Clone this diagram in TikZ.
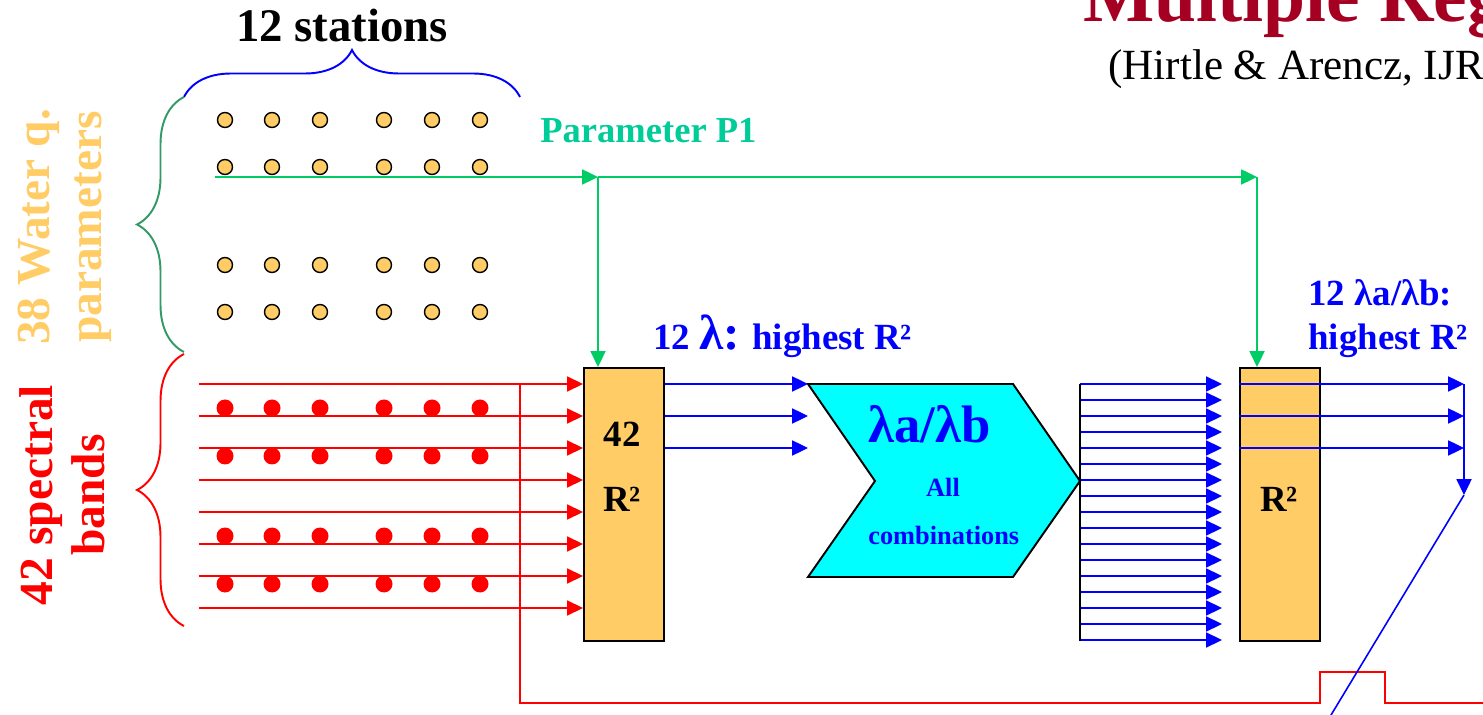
\documentclass[tikz,border=0pt]{standalone}
\usepackage{fontspec}
\setmainfont{Liberation Serif}
\usetikzlibrary{arrows.meta,decorations.pathreplacing,positioning}

\definecolor{wqorange}{HTML}{FFCC66}
\definecolor{titlered}{HTML}{A50021}
\definecolor{pline}{HTML}{00CC66}
\definecolor{ptext}{HTML}{00CC99}
\definecolor{bracegreen}{HTML}{339966}
\definecolor{chevcyan}{HTML}{00FFFF}

\tikzset{
  >={Triangle[length=9pt,width=8.5pt]},
  redline/.style={draw=red,line width=1.1pt},
  blueline/.style={draw=blue,line width=1.1pt},
  greenline/.style={draw=pline,line width=1.1pt},
  fitbox/.style={draw=black,fill=wqorange,line width=1.2pt,minimum width=1.6cm,minimum height=5.46cm,inner sep=0pt},
  bracedeco/.style={decorate,decoration={brace,amplitude=0.94cm},line width=1.1pt},
  lbl/.style={inner sep=0pt,font=\fontsize{21}{25}\selectfont\bfseries},
  sidelbl/.style={inner sep=0pt,rotate=90,align=center,font=\fontsize{27}{29.5}\selectfont\bfseries}
}

\begin{document}
\begin{tikzpicture}[x=0.02cm,y=-0.02cm]
  \path[use as bounding box] (0,0) rectangle (1483,715);
  \clip (0,0) rectangle (1483,715);

  \node[anchor=base west,inner sep=0pt,text=titlered,font=\fontsize{43}{50}\selectfont\bfseries] (title) at (1083,22) {Multiple Regression};
  \node[anchor=base west,inner sep=0pt,font=\fontsize{24.5}{29}\selectfont] (cite) at (1108,80) {(Hirtle \& Arencz, IJRS)};

  \node[anchor=base west,inner sep=0pt,font=\fontsize{26.6}{30}\selectfont\bfseries] (stations) at (236,42) {12 stations};
  \node[sidelbl,text=wqorange] (wqlabel) at (65,227) {38 Water q.\\parameters};
  \node[sidelbl,text=red] (bandlabel) at (62,495) {42 spectral\\bands};

  \draw[bracedeco,blue] (184,97) -- (520,97);
  \draw[bracedeco,bracegreen] (184,352) -- (184,97);
  \draw[bracedeco,red] (184,626) -- (184,354);

  \node[fitbox] (bandfit) at (624,504.5) {};
  \node[fitbox] (ratiofit) at (1280,504.5) {};
  \node[lbl,anchor=base] (bandnum) at (622,447) {42};
  \node[lbl,anchor=base] (bandr) at (622,512) {R²};
  \node[lbl,anchor=base] (ratior) at (1279,512) {R²};

  \draw[fill=chevcyan,line width=1.1pt] (808,384) coordinate (chtl) -- (1013,384) -- (1080,481) coordinate (chtip)
    -- (1013,577) -- (808,577) -- (875,481) -- cycle;
  \node[anchor=base west,inner sep=0pt,text=blue,font=\fontsize{30}{34}\selectfont\bfseries] (ratio) at (868,443) {λa/λb};
  \node[anchor=base,inner sep=0pt,text=blue,font=\fontsize{15}{18}\selectfont\bfseries] (allc) at (943,497) {All};
  \node[anchor=base west,inner sep=0pt,text=blue,font=\fontsize{15}{18}\selectfont\bfseries] (comb) at (868,544) {combinations};

  \foreach \y in {384,416,...,608} {
    \coordinate (rin) at (199,\y);
    \draw[redline,->] (rin) -- (rin -| bandfit.west);
  }
  \foreach \x in {225,272,320,384,432,480} {
    \foreach \y in {120,167,265,312}
      \draw[line width=0.8pt,fill=wqorange] (\x,\y) circle[radius=7.5];
    \foreach \y in {408,456,536,584}
      \fill[red] (\x,\y) circle[radius=8.5];
  }
  \draw[redline] (520,384) -- (520,703) -- (1320,703) -- (1320,672) -- (1385,672) -- (1385,703) -- (1490,703);

  \node[anchor=base west,inner sep=0pt,text=ptext,font=\fontsize{20.8}{25}\selectfont\bfseries] (param) at (540,143) {Parameter P1};
  \coordinate (pstart) at (215,177);
  \draw[greenline,->] (pstart) -- (598,177) coordinate (pj1);
  \draw[greenline,->] (pj1) -- (1257,177) coordinate (pj2);
  \draw[greenline,->] (pj1) -- (pj1 |- bandfit.north);
  \draw[greenline,->] (pj2) -- (pj2 |- ratiofit.north);

  \node[anchor=base west,inner sep=0pt,text=blue,font=\fontsize{21}{25}\selectfont\bfseries] (best) at (653,350)
    {12 {\fontsize{28}{30}\selectfont λ:} highest R²};
  \node[anchor=base west,inner sep=0pt,text=blue,align=left,font=\fontsize{21}{25.6}\selectfont\bfseries] (bestratio) at (1308,350)
    {12 λa/λb:\\highest R²};

  \foreach \y in {384,416,448} {
    \coordinate (lv) at (0,\y);
    \draw[blueline,->] (lv -| bandfit.east) -- (lv -| chtl);
  }
  \foreach \y in {384,400,...,640} {
    \coordinate (lv) at (0,\y);
    \draw[blueline,->,shorten >=0.34cm] (lv -| chtip) -- (lv -| ratiofit.west);
  }
  \draw[line width=1.1pt] (1080,384) -- (1080,641);

  \coordinate (outcol) at (1464,384);
  \foreach \y in {384,416,448} {
    \coordinate (lv) at (0,\y);
    \draw[blueline,->] (lv -| ratiofit.west) -- (lv -| outcol);
  }
  \draw[blueline,->] (outcol) -- (1464,495) coordinate (outend);
  \draw[blue,line width=0.9pt] (outend) -- (1328,720);
\end{tikzpicture}
\end{document}
